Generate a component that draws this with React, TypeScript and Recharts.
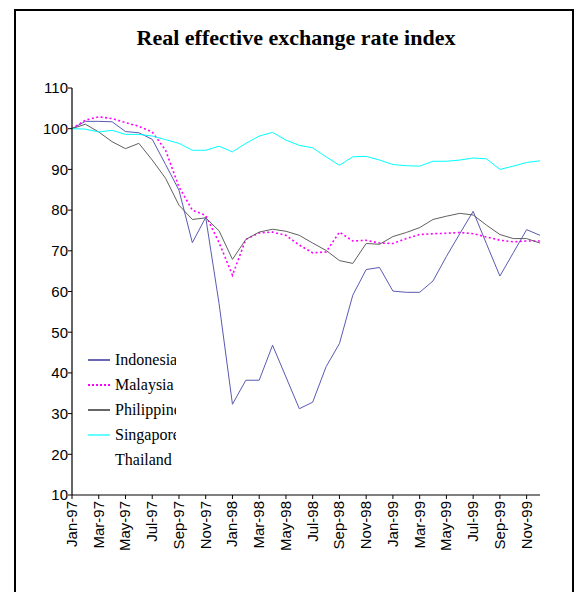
import { LineChart, Line, XAxis, YAxis } from "recharts";

const MONTHS = [
  "Jan-97", "Feb-97", "Mar-97", "Apr-97", "May-97", "Jun-97", "Jul-97", "Aug-97", "Sep-97", "Oct-97", "Nov-97", "Dec-97",
  "Jan-98", "Feb-98", "Mar-98", "Apr-98", "May-98", "Jun-98", "Jul-98", "Aug-98", "Sep-98", "Oct-98", "Nov-98", "Dec-98",
  "Jan-99", "Feb-99", "Mar-99", "Apr-99", "May-99", "Jun-99", "Jul-99", "Aug-99", "Sep-99", "Oct-99", "Nov-99", "Dec-99",
];

const INDONESIA = [
  100, 101.8, 101.8, 101.7, 99.3, 99, 97.4, 91.2, 84.9, 72, 78.2, 57,
  32.3, 38.2, 38.2, 46.8, 39, 31.2, 32.8, 41.5, 47.2, 59.1, 65.4, 65.9,
  60.1, 59.8, 59.8, 62.6, 68.6, 74.2, 79.7, 71.7, 63.8, 69.5, 75.2, 73.8,
];
const MALAYSIA = [
  100, 102.1, 102.9, 102.5, 101.5, 100.6, 99.2, 94.7, 85.7, 80, 78.7, 72,
  64, 72.8, 74.4, 74.6, 73.8, 71.4, 69.5, 69.7, 74.6, 72.4, 72.6, 71.9,
  71.8, 73, 74, 74.2, 74.3, 74.5, 74.2, 73.4, 72.6, 72.2, 72.4, 72.4,
];
const PHILIPPINES = [
  100, 101.1, 99.2, 96.8, 95.1, 96.4, 92.3, 87.8, 81.2, 77.7, 78.1, 74.9,
  67.9, 72.8, 74.6, 75.3, 74.8, 73.8, 71.9, 70.1, 67.6, 66.9, 71.8, 71.6,
  73.5, 74.5, 75.7, 77.7, 78.5, 79.2, 78.8, 76.3, 74, 73, 73, 71.9,
];
const SINGAPORE = [
  100, 99.9, 99.2, 99.6, 98.6, 98.6, 98.2, 97.3, 96.4, 94.7, 94.7, 95.7,
  94.3, 96.4, 98.2, 99.1, 97.2, 95.9, 95.3, 93.1, 91, 93.1, 93.2, 92.3,
  91.2, 90.9, 90.8, 92, 92, 92.3, 92.8, 92.6, 90, 90.8, 91.7, 92.1,
];

const Y_TICKS = [10, 20, 30, 40, 50, 60, 70, 80, 90, 100, 110];

const LEGEND_ITEMS = [
  { name: "Indonesia", color: "#000080", dash: undefined },
  { name: "Malaysia", color: "#ff00ff", dash: "2 2" },
  { name: "Philippines", color: "#000000", dash: undefined },
  { name: "Singapore", color: "#00ffff", dash: undefined },
  { name: "Thailand", color: "#ffffff", dash: undefined },
];

const data = MONTHS.map((m, i) => ({
  month: m,
  Indonesia: INDONESIA[i],
  Malaysia: MALAYSIA[i],
  Philippines: PHILIPPINES[i],
  Singapore: SINGAPORE[i],
}));

const sans = "'Liberation Sans', Arial, sans-serif";
const serif = "'Liberation Serif', 'Times New Roman', serif";

function MonthTick(props: any) {
  const { x, y, payload } = props;
  return (
    <text
      x={x}
      y={y}
      transform={`rotate(-90, ${x}, ${y})`}
      textAnchor="end"
      dy={5}
      fontSize={15}
      fontFamily={sans}
      fill="#000"
    >
      {payload.value}
    </text>
  );
}

// legend box is narrow in the original, long names get cut at its edge
function LegendBox() {
  return (
    <div
      style={{
        position: "absolute",
        left: 88,
        top: 347,
        width: 88,
        overflow: "hidden",
        whiteSpace: "nowrap",
      }}
    >
      {LEGEND_ITEMS.map((it) => (
        <div key={it.name} style={{ display: "flex", alignItems: "center", height: 25 }}>
          <svg width={24} height={6} style={{ marginRight: 3, flexShrink: 0 }}>
            <line
              x1={0}
              y1={3}
              x2={22}
              y2={3}
              stroke={it.color}
              strokeWidth={it.dash ? 2 : 1.2}
              strokeDasharray={it.dash}
            />
          </svg>
          <span style={{ fontFamily: serif, fontSize: 16, color: "#000" }}>{it.name}</span>
        </div>
      ))}
    </div>
  );
}

export default function App() {
  return (
    <div
      style={{
        position: "absolute",
        left: 0,
        top: 0,
        width: 575,
        height: 592,
        overflow: "hidden",
        background: "#fff",
      }}
    >
      <div
        style={{
          position: "absolute",
          left: 14,
          top: 9,
          width: 556,
          height: 620,
          border: "2px solid #000",
        }}
      />
      <div
        style={{
          position: "absolute",
          left: 0,
          top: 25,
          width: 592,
          textAlign: "center",
          fontFamily: serif,
          fontWeight: 700,
          fontSize: 22,
        }}
      >
        Real effective exchange rate index
      </div>
      <div style={{ position: "absolute", left: 0, top: 0 }}>
        <LineChart
          width={575}
          height={592}
          data={data}
          margin={{ top: 88, right: 35, bottom: 0, left: 32 }}
        >
          <XAxis
            dataKey="month"
            interval={1}
            tick={<MonthTick />}
            tickSize={4}
            axisLine={{ stroke: "#000", strokeWidth: 1.2 }}
            tickLine={{ stroke: "#000" }}
            padding={{ left: 0, right: 0 }}
            height={97}
          />
          <YAxis
            domain={[10, 110]}
            ticks={Y_TICKS}
            interval={0}
            width={40}
            tickSize={4}
            tickMargin={0}
            axisLine={{ stroke: "#000", strokeWidth: 1.2 }}
            tickLine={{ stroke: "#000" }}
            tick={{ fill: "#000", fontSize: 15, fontFamily: sans }}
          />
          <Line
            dataKey="Indonesia"
            stroke="#5a5ab4"
            strokeWidth={1}
            dot={false}
            isAnimationActive={false}
          />
          <Line
            dataKey="Malaysia"
            stroke="#ff00ff"
            strokeWidth={1.6}
            strokeDasharray="2 2.5"
            dot={false}
            isAnimationActive={false}
          />
          <Line
            dataKey="Philippines"
            stroke="#606060"
            strokeWidth={1}
            dot={false}
            isAnimationActive={false}
          />
          <Line
            dataKey="Singapore"
            stroke="#00ffff"
            strokeWidth={1}
            dot={false}
            isAnimationActive={false}
          />
        </LineChart>
      </div>
      <LegendBox />
    </div>
  );
}
